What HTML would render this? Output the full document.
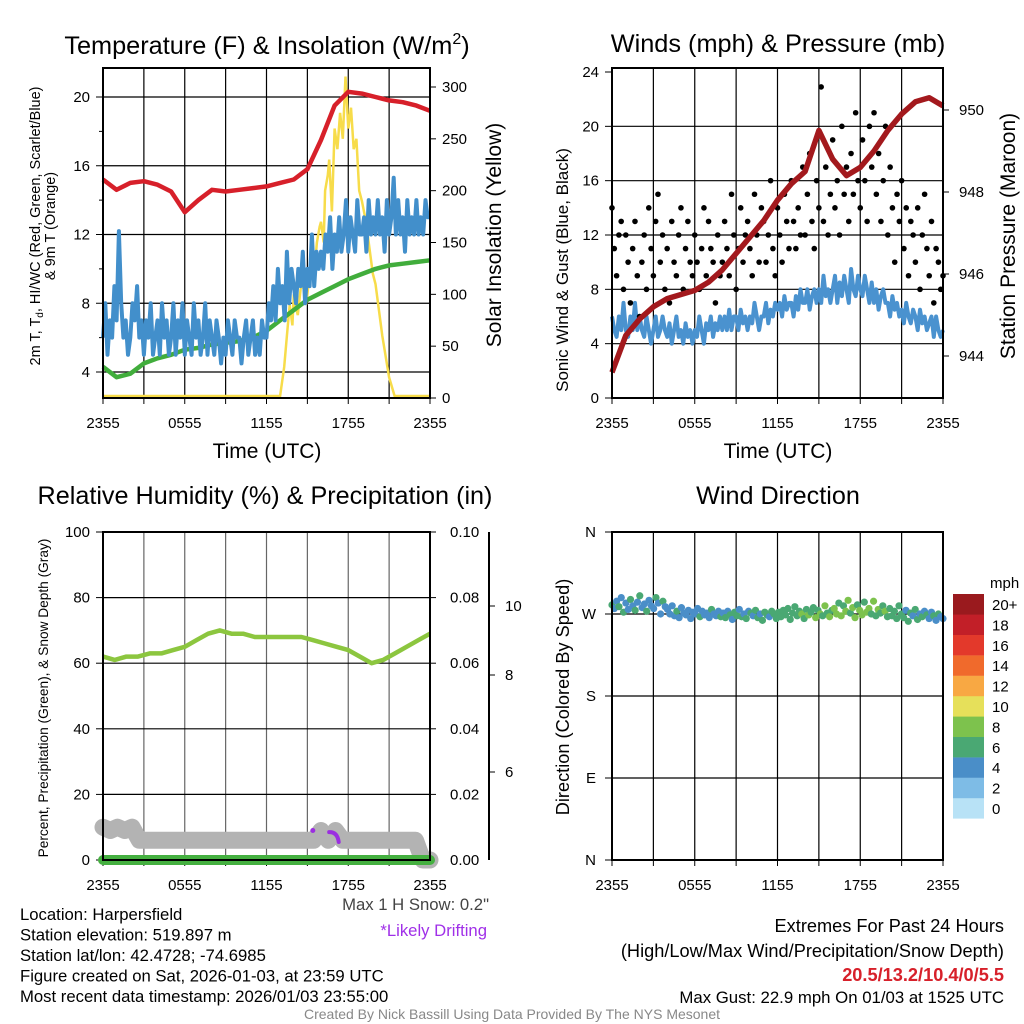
<!DOCTYPE html>
<html><head><meta charset="utf-8"><style>
body{margin:0;background:#fff}
svg{display:block;font-family:"Liberation Sans",Arial,sans-serif}
</style></head><body>
<svg id="c" width="1024" height="1024" viewBox="0 0 1024 1024"></svg>
<script>
// ---------- DATA ----------
const timeTicks = ["2355","0555","1155","1755","2355"];
const tempRed = [15.2,14.6,15.0,15.1,14.9,14.5,13.3,14.0,14.6,14.5,14.6,14.7,14.8,15.0,15.2,15.8,17.5,19.5,20.3,20.2,20.0,19.8,19.7,19.5,19.2];
const dewGreen = [4.3,3.7,3.9,4.5,4.8,5.0,5.3,5.4,5.6,5.7,5.8,6.0,6.4,7.0,7.6,8.2,8.6,9.0,9.4,9.7,10.0,10.2,10.3,10.4,10.5];
const windChillBlue = [6,8,5,7,6,9, 7,12.2,8,6,7,5, 6,8,7,9,6,7, 5,7,6,8,5,6, 7,5,8,6,7,5, 6,8,5,7,6,8, 5,7,6,5,8,6, 7,5,6,8,5,7, 6,5,7,6,4.5,6, 5,7,6,5,7,6, 6,4.5,6,7,5,6, 7,5,6,5,7,6, 6,8,7,9,7,10, 8,9,7,11,8,10, 9,8,10,9,11,8, 10,9,12,9,11,10, 11,10,12,11,13,10, 12,11,13,11,12,14, 11,13,12,11,14,12, 12,13,11,14,12,13, 12,14,12,13,11,14, 12,13,15.3,12,14,12, 13,11,14,12,13,12, 14,12,13,12,14,13, 13];
const solarHours = [0,13,13.3,13.5,13.7,13.9,14,14.2,14.3,14.5,14.7,14.9,15,15.2,15.3,15.5,15.7,15.9,16,16.2,16.3,16.5,16.6,16.8,17,17.2,17.4,17.6,17.8,18,18.2,18.4,18.6,18.8,19,19.3,19.5,19.8,20,20.5,21,21.4,24];
const solarYellow = [0,0,30,60,90,70,100,85,80,105,110,90,100,125,140,120,150,165,170,150,200,215,230,180,260,240,275,250,310,260,280,240,250,200,190,170,150,120,110,60,20,0,0];
const tempTicks = [4,8,12,16,20];
const solarTicks = [0,50,100,150,200,250,300];

const gustBlack = [14,11,9,12,13,8, 12,10,7,11,13,9, 6,10,12,8,14,11, 9,13,15,10,12,8, 11,7,13,10,9,12, 14,8,11,13,10,9, 12,10,8,11,14,9, 13,11,10,7,12,9, 10,13,11,9,15,12, 8,11,14,10,12,13, 11,9,15,12,10,14, 13,10,12,16,11,9, 14,12,10,15,13,11, 16,13,11,14,12,17, 12,15,18,13,11,16, 14,22.9,13,17,12,15, 19,14,16,12,20,15, 17,13,18,15,21,16, 14,19,16,13,20,17, 21,15,18,13,16,20, 12,17,14,10,15,13, 16,11,14,9,13,12, 10,14,8,12,15,11, 9,13,7,11,10,8, 9];
const sonicBlue = [6,5,4.5,6,5,7, 5,4.5,6,5,7,5, 6,5,4.5,6,5,4, 5,6,4.5,5,6,5, 4.5,5.5,4,5,6,4.5, 5,4,5.5,4.5,5,4, 5,4.5,6,5,4,5.5, 5,6,4.5,5.5,5,6, 5,6,5,6.5,5,6, 6,5,6.5,5.5,6,5, 6,5.5,7,6,5,6, 6,7,5.5,6.5,6,7, 6.5,7,6,7.5,6.5,7, 7,6,7.5,6.5,8,7, 7,8,6.5,7.5,8,7, 8,7,9,7.5,8,7, 8,9,7,8.5,7.5,9, 8,7,9.5,8,7.5,9, 8,7.5,9,8,7,8.5, 7,8,6.5,7.5,8,7, 7,6,7.5,6.5,7,6, 6.5,5.5,7,6,5.5,6.5, 6,5,6.5,5.5,6,5, 5.5,6,4.5,6,5,4.5, 5];
const pressureMaroon = [943.6,944.5,944.9,945.2,945.4,945.5,945.6,945.8,946.1,946.5,946.9,947.3,947.8,948.2,948.5,949.5,948.8,948.4,948.6,949.0,949.5,949.9,950.2,950.3,950.1];
const windTicks = [0,4,8,12,16,20,24];
const pressTicks = [944,946,948,950];

const rhGreen = [62,61,62,62,63,63,64,65,67,69,70,69,69,68,68,68,68,68,67,66,65,64,62,60,61,63,65,67,69];
const snowGray = [10,9,10,9,10,6,6,6,6,6,6,6,6,6,6,6,6,6,6,6,6,6,6,6,6,6,6,6,6,6,9,6,9,6,6,6,6,6,6,6,6,6,6,6,0,0];
const precipGreen = [0,0,0,0,0,0,0,0,0,0,0,0,0,0,0,0,0,0,0,0,0,0,0,0,0];
const rhTicks = [0,20,40,60,80,100];
const precipTicks = ["0.00","0.02","0.04","0.06","0.08","0.10"];

const windDir = [280,276,284,278,288,272,282,275,286,279,274,283,290,277,281,273,285,279,276,288,282,270,284,278,
 275,270,279,268,273,266,277,271,269,274,265,272,270,276,267,273,269,271,266,275,270,268,273,267,
 271,266,273,269,264,272,268,275,267,270,265,273,271,268,274,266,270,263,272,269,267,273,270,265,
 272,267,274,269,276,264,271,278,268,273,270,265,275,269,272,277,266,274,270,268,279,271,267,274,
 276,270,282,268,279,273,285,271,277,266,280,274,269,283,272,276,270,284,268,275,271,279,273,267,
 276,268,273,265,279,270,266,274,262,271,268,275,264,270,267,273,269,265,272,268,263,270,267,265];
const cbLabels = ["0","2","4","6","8","10","12","14","16","18","20+"];
const cbColors = ["#b8e2f6","#7ebce6","#4a8ec8","#4aa873","#7dc24d","#e6e05a","#f8a843","#f06a2c","#e3392b","#c21f28","#9a1a1e"];

// ---------- HELPERS ----------
const S = document.getElementById('c');
const NS = "http://www.w3.org/2000/svg";
function el(tag, attrs, parent, name, inter){
  const e = document.createElementNS(NS, tag);
  for (const k in attrs) e.setAttribute(k, attrs[k]);
  
  
  (parent || S).appendChild(e);
  return e;
}
function txt(x,y,s,str,anchor,name,fill,extra){
  const t = el('text', Object.assign({x:x,y:y,'font-size':s,'text-anchor':anchor||'middle',fill:fill||'#000'}, extra||{}), S, name);
  t.textContent = str; return t;
}
function lin(d0,d1,r0,r1){return v=>r0+(v-d0)*(r1-r0)/(d1-d0);}
function path(pts){return pts.map((p,i)=>(i?'L':'M')+p[0].toFixed(1)+','+p[1].toFixed(1)).join('');}

function frame(x0,x1,y0,y1,name,vgrid){
  const g = el('g',{},S,name+'-grid');
  for (let i=0;i<=8;i++){
    const x = x0+(x1-x0)*i/8;
    el('line',{x1:x,x2:x,y1:y0,y2:y1,stroke:vgrid||'#000','stroke-width':1.2},g,'v-gridline');
    el('line',{x1:x,x2:x,y1:y1,y2:y1+6,stroke:'#000','stroke-width':1},g,'x-tick');
  }
  timeTicks.forEach((t,i)=>{txt(x0+(x1-x0)*i/4, y1+30, 15, t,'middle','x-tick-label');});
}
function hgrid(x0,x1,yv,name){
  el('line',{x1:x0,x2:x1,y1:yv,y2:yv,stroke:'#000','stroke-width':1.2},S,name);
}
function border(x0,x1,y0,y1,name){
  el('rect',{x:x0,y:y0,width:x1-x0,height:y1-y0,fill:'none',stroke:'#000','stroke-width':2},S,name);
}

// ---------- PANEL 1 ----------
(function(){
  const x0=103,x1=430,y0=68,y1=398;
  const X = lin(0,24,x0,x1), Y = lin(4,20,372,97), Ys = lin(0,300,398,87);
  frame(x0,x1,y0,y1,'temp-panel');
  tempTicks.forEach(v=>{hgrid(x0,x1,Y(v),'temp-gridline'); el('line',{x1:x0-7,x2:x0,y1:Y(v),y2:Y(v),stroke:'#000'},S,'y-tick'); txt(x0-13,Y(v)+5,15,String(v),'end','y-tick-label');});
  [6,10,14,18].forEach(v=>el('line',{x1:x0-4,x2:x0,y1:Y(v),y2:Y(v),stroke:'#000'},S,'y-minor-tick'));
  solarTicks.forEach(v=>{el('line',{x1:x1,x2:x1+6,y1:Ys(v),y2:Ys(v),stroke:'#000'},S,'y2-tick'); txt(x1+12,Ys(v)+5,15,String(v),'start','y2-tick-label');});
  el('path',{d:path(solarYellow.map((v,i)=>[X(solarHours[i]),Math.min(Ys(v),396)])),fill:'none',stroke:'#f7dc4a','stroke-width':2.5},S,'solar-insolation-line');
  el('path',{d:path(dewGreen.map((v,i)=>[X(i*24/(dewGreen.length-1)),Y(v)])),fill:'none',stroke:'#41ad3c','stroke-width':4.5,'stroke-linejoin':'round'},S,'dewpoint-line');
  el('path',{d:path(windChillBlue.map((v,i)=>[X(i*24/(windChillBlue.length-1)),Y(v)])),fill:'none',stroke:'#428fcb','stroke-width':4,'stroke-linejoin':'round'},S,'wind-chill-line');
  el('path',{d:path(tempRed.map((v,i)=>[X(i*24/(tempRed.length-1)),Y(v)])),fill:'none',stroke:'#d7202a','stroke-width':4.5,'stroke-linejoin':'round'},S,'temperature-line');
  border(x0,x1,y0,y1,'temp-plot-border');
  const t = txt(267,54,25.3,'Temperature (F) & Insolation (W/m','middle','temp-panel-title');
  const ts = document.createElementNS(NS,'tspan'); ts.setAttribute('dy','-10'); ts.setAttribute('font-size','16'); ts.textContent='2'; t.appendChild(ts);
  const ts2 = document.createElementNS(NS,'tspan'); ts2.setAttribute('dy','10'); ts2.textContent=')'; t.appendChild(ts2);
  txt(267,458,21,'Time (UTC)','middle','temp-x-axis-title');
  const yl = txt(0,0,14.5,'2m T, T','middle','temp-y-axis-title',null,{transform:'translate(40,226) rotate(-90)'});
  const sd=document.createElementNS(NS,'tspan');sd.setAttribute('font-size','10');sd.setAttribute('dy','3');sd.textContent='d';yl.appendChild(sd);
  const sr=document.createElementNS(NS,'tspan');sr.setAttribute('dy','-3');sr.textContent=', HI/WC (Red, Green, Scarlet/Blue)';yl.appendChild(sr);
  txt(0,0,14.5,'& 9m T (Orange)','middle','temp-y-axis-title-line2',null,{transform:'translate(55,226) rotate(-90)'});
  txt(0,0,21,'Solar Insolation (Yellow)','middle','solar-y-axis-title',null,{transform:'translate(501,235) rotate(-90)'});
})();

// ---------- PANEL 2 ----------
(function(){
  const x0=612,x1=943,y0=68,y1=398;
  const X = lin(0,24,x0,x1), Y = lin(0,24,398,72), Yp = lin(944,950,356,110);
  frame(x0,x1,y0,y1,'wind-panel');
  windTicks.forEach(v=>{ if(v>0&&v<24) hgrid(x0,x1,Y(v),'wind-gridline'); el('line',{x1:x0-7,x2:x0,y1:Y(v),y2:Y(v),stroke:'#000'},S,'y-tick'); txt(x0-13,Y(v)+5,15,String(v),'end','y-tick-label');});
  pressTicks.forEach(v=>{el('line',{x1:x1,x2:x1+6,y1:Yp(v),y2:Yp(v),stroke:'#000'},S,'y2-tick'); txt(x1+16,Yp(v)+5,15,String(v),'start','y2-tick-label');});
  el('path',{d:path(sonicBlue.map((v,i)=>[X(i*24/(sonicBlue.length-1)),Y(v)])),fill:'none',stroke:'#4a92cf','stroke-width':4,'stroke-linejoin':'round'},S,'sonic-wind-line');
  const g = el('g',{},S,'gust-points');
  gustBlack.forEach((v,i)=>{ el('circle',{cx:X(i*24/(gustBlack.length-1)),cy:Y(v),r:2.8,fill:'#000'},g,'gust-point'); });
  el('path',{d:path(pressureMaroon.map((v,i)=>[X(i*24/(pressureMaroon.length-1)),Yp(v)])),fill:'none',stroke:'#a3191d','stroke-width':5.5,'stroke-linejoin':'round'},S,'pressure-line');
  border(x0,x1,y0,y1,'wind-plot-border');
  txt(778,52,25.3,'Winds (mph) & Pressure (mb)','middle','wind-panel-title');
  txt(778,458,21,'Time (UTC)','middle','wind-x-axis-title');
  txt(0,0,17,'Sonic Wind & Gust (Blue, Black)','middle','wind-y-axis-title',null,{transform:'translate(568,270) rotate(-90)'});
  txt(0,0,21,'Station Pressure (Maroon)','middle','pressure-y-axis-title',null,{transform:'translate(1015,236) rotate(-90)'});
})();

// ---------- PANEL 3 ----------
(function(){
  const x0=103,x1=430,y0=532,y1=860;
  const X = lin(0,24,x0,x1), Y = lin(0,100,860,532);
  frame(x0,x1,y0,y1,'rh-panel','#666');
  rhTicks.forEach((v,i)=>{ if(v>0&&v<100) hgrid(x0,x1,Y(v),'rh-gridline'); el('line',{x1:x0-7,x2:x0,y1:Y(v),y2:Y(v),stroke:'#000'},S,'y-tick'); txt(x0-13,Y(v)+5,15,String(v),'end','y-tick-label');
    el('line',{x1:x1,x2:x1+6,y1:Y(v),y2:Y(v),stroke:'#000'},S,'y2-tick'); txt(x1+20,Y(v)+5,15,precipTicks[i],'start','y2-tick-label');});
  el('path',{d:path(snowGray.map((v,i)=>[X(i*24/(snowGray.length-1)),Y(v)])),fill:'none',stroke:'#b3b3b3','stroke-width':17,'stroke-linejoin':'round','stroke-linecap':'round'},S,'snow-depth-line');
  el('path',{d:path(precipGreen.map((v,i)=>[X(i*24/(precipGreen.length-1)),Y(v)])),fill:'none',stroke:'#45b040','stroke-width':10,'stroke-linecap':'round'},S,'precipitation-line');
  el('circle',{cx:X(15.4),cy:Y(9),r:2.5,fill:'#9b2ee0'},S,'drift-point');
  el('path',{d:'M'+X(16.6)+','+Y(8.5)+' Q'+X(17.2)+','+Y(8.6)+' '+X(17.3)+','+Y(5.5),fill:'none',stroke:'#9b2ee0','stroke-width':4,'stroke-linecap':'round'},S,'drift-line');
  el('path',{d:path(rhGreen.map((v,i)=>[X(i*24/(rhGreen.length-1)),Y(v)])),fill:'none',stroke:'#8cc63f','stroke-width':4.5,'stroke-linejoin':'round'},S,'rh-line');
  border(x0,x1,y0,y1,'rh-plot-border');
  el('line',{x1:489,x2:489,y1:532,y2:860,stroke:'#000','stroke-width':2},S,'snow-axis');
  [[606,'10'],[675,'8'],[772,'6']].forEach(a=>{el('line',{x1:489,x2:495,y1:a[0],y2:a[0],stroke:'#000'},S,'snow-tick'); txt(505,a[0]+5,15,a[1],'start','snow-tick-label');});
  txt(265,504,25.2,'Relative Humidity (%) & Precipitation (in)','middle','rh-panel-title');
  txt(0,0,13.7,'Percent, Precipitation (Green), & Snow Depth (Gray)','middle','rh-y-axis-title',null,{transform:'translate(48,698) rotate(-90)'});
  txt(489,910,16.7,'Max 1 H Snow: 0.2"','end','max-snow-note','#444');
  txt(487,936,16.7,'*Likely Drifting','end','drifting-note','#a030e8');
})();

// ---------- PANEL 4 ----------
(function(){
  const x0=612,x1=943,y0=532,y1=860;
  const X = lin(0,24,x0,x1), Y = lin(0,360,860,532);
  frame(x0,x1,y0,y1,'direction-panel');
  const dl=["N","E","S","W","N"];
  [0,90,180,270,360].forEach((v,i)=>{ if(v>0&&v<360) hgrid(x0,x1,Y(v),'dir-gridline'); el('line',{x1:x0-7,x2:x0,y1:Y(v),y2:Y(v),stroke:'#000'},S,'y-tick'); txt(x0-16,Y(v)+5,15,dl[i],'end','y-tick-label');});
  const g = el('g',{},S,'direction-points');
  windDir.forEach((v,i)=>{ const ci = Math.min(10,Math.floor(sonicBlue[i]/2)); el('circle',{cx:X(i*24/(windDir.length-1)),cy:Y(v),r:3.6,fill:cbColors[ci]},g,'direction-point'); });
  border(x0,x1,y0,y1,'direction-plot-border');
  txt(778,504,25.2,'Wind Direction','middle','direction-panel-title');
  txt(0,0,18.2,'Direction (Colored By Speed)','middle','direction-y-axis-title',null,{transform:'translate(569,697) rotate(-90)'});
  const cg = el('g',{},S,'speed-colorbar');
  cbColors.forEach((c,i)=>{ const y=798-i*20.4; el('rect',{x:953,y:y,width:31,height:20.6,fill:c},cg,'colorbar-swatch'); txt(992,y+16,15,cbLabels[i],'start','colorbar-label'); });
  txt(990,588,15,'mph','start','colorbar-unit');
})();

// ---------- FOOTER ----------
["Location: Harpersfield","Station elevation: 519.897 m","Station lat/lon: 42.4728; -74.6985","Figure created on Sat, 2026-01-03, at 23:59 UTC","Most recent data timestamp: 2026/01/03 23:55:00"].forEach((s,i)=>txt(20,920+i*20.5,16.7,s,'start','station-info-line'));
txt(1004,932,18.2,'Extremes For Past 24 Hours','end','extremes-title');
txt(1004,957,18.2,'(High/Low/Max Wind/Precipitation/Snow Depth)','end','extremes-subtitle');
txt(1004,981,18.2,'20.5/13.2/10.4/0/5.5','end','extremes-values','#d7202a',{'font-weight':'bold'});
txt(1004,1003,16.8,'Max Gust: 22.9 mph On 01/03 at 1525 UTC','end','max-gust-note');
txt(512,1019,14,'Created By Nick Bassill Using Data Provided By The NYS Mesonet','middle','credit-line','#888');
</script>
</body></html>
